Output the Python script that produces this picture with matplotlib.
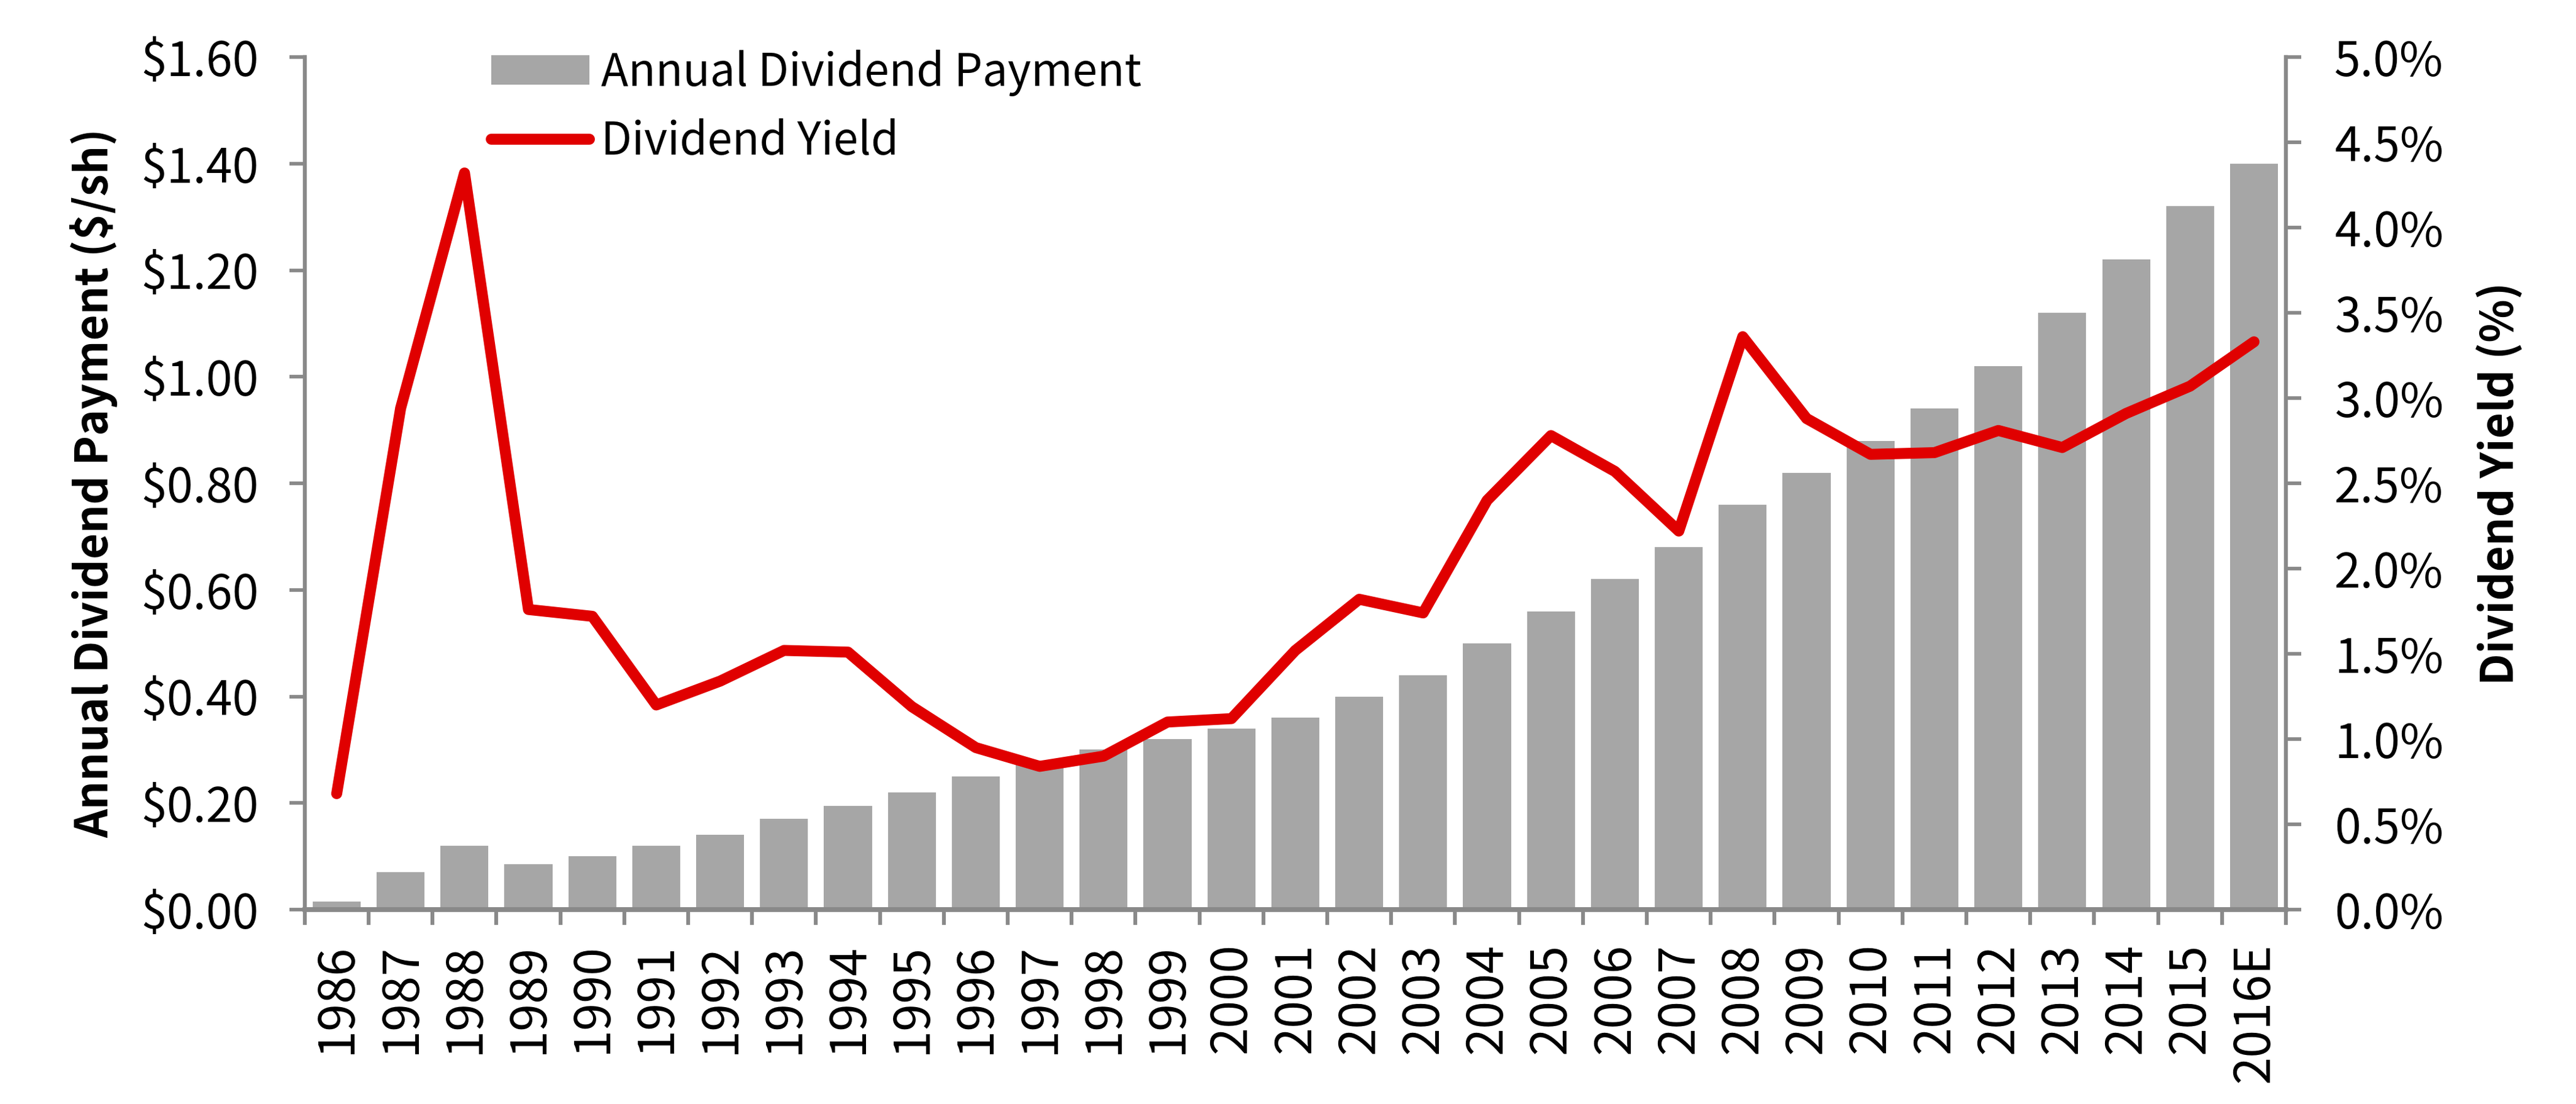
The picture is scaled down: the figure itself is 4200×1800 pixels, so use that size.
import numpy as np
import matplotlib.pyplot as plt
from matplotlib.ticker import FuncFormatter, FixedLocator

plt.rcParams['font.family'] = ['Noto Sans CJK SC', 'DejaVu Sans']

years = ['1986', '1987', '1988', '1989', '1990', '1991', '1992', '1993', '1994', '1995',
         '1996', '1997', '1998', '1999', '2000', '2001', '2002', '2003', '2004', '2005',
         '2006', '2007', '2008', '2009', '2010', '2011', '2012', '2013', '2014', '2015', '2016E']
dividend = [0.015, 0.07, 0.12, 0.085, 0.10, 0.12, 0.14, 0.17, 0.195, 0.22,
            0.25, 0.28, 0.30, 0.32, 0.34, 0.36, 0.40, 0.44, 0.50, 0.56,
            0.62, 0.68, 0.76, 0.82, 0.88, 0.94, 1.02, 1.12, 1.22, 1.32, 1.40]
yield_pct = [0.68, 2.94, 4.32, 1.76, 1.72, 1.20, 1.34, 1.52, 1.51, 1.19,
             0.95, 0.84, 0.90, 1.10, 1.12, 1.52, 1.82, 1.74, 2.40, 2.78,
             2.57, 2.22, 3.36, 2.88, 2.67, 2.68, 2.81, 2.71, 2.91, 3.07, 3.33]

grey = '#A6A6A6'
red = '#E00000'
axcol = '#898989'

fig = plt.figure(figsize=(14, 6), dpi=300)
ax = fig.add_axes([0.1183, 0.1761, 0.7691, 0.7722])
ax2 = ax.twinx()

x = np.arange(len(years))
bars = ax.bar(x, dividend, width=0.75, color=grey, zorder=2)
line, = ax2.plot(x, yield_pct, color=red, lw=4.3, solid_joinstyle='round',
                 solid_capstyle='round', zorder=3)

ax.set_xlim(-0.5, len(years) - 0.5)
ax.set_ylim(0, 1.6)
ax2.set_ylim(0, 5.0)
ax.set_yticks(np.arange(0, 1.61, 0.2))
ax2.set_yticks(np.arange(0, 5.01, 0.5))
ax.yaxis.set_major_formatter(FuncFormatter(lambda v, p: f'${v:.2f}'))
ax2.yaxis.set_major_formatter(FuncFormatter(lambda v, p: f'{v:.1f}%'))

# year labels on the bars, tick marks between the bars
ax.set_xticks(x)
ax.set_xticklabels(years, rotation=90, fontsize=19.5)
ax.tick_params(axis='x', which='major', length=0, pad=13)
ax.xaxis.set_minor_locator(FixedLocator(np.arange(-0.5, len(years), 1)))
ax.tick_params(axis='x', which='minor', length=6, width=1.5, color=axcol, direction='out')

ax.tick_params(axis='y', labelsize=18.5, length=6, width=1.4, color=axcol, pad=12)
ax2.tick_params(axis='y', labelsize=18.5, length=6, width=1.4, color=axcol, pad=13)

for a in (ax, ax2):
    a.spines['top'].set_visible(False)
    for s in ('left', 'right', 'bottom'):
        a.spines[s].set_color(axcol)
        a.spines[s].set_linewidth(1.5)
    a.spines['bottom'].set_linewidth(1.8)

ax.set_ylabel('Annual Dividend Payment ($/sh)', fontsize=17.5, fontweight='bold', labelpad=9)
ax2.set_ylabel('Dividend Yield (%)', fontsize=17.5, fontweight='bold', labelpad=13)

fig.legend([bars, line], ['Annual Dividend Payment', 'Dividend Yield'],
           loc='upper left', bbox_to_anchor=(0.1907, 0.955), frameon=False,
           fontsize=17.5, handlelength=2.2, handleheight=0.63, handletextpad=0.26,
           labelspacing=0.5, borderpad=0, borderaxespad=0)

fig.savefig('out.png', dpi=300)
